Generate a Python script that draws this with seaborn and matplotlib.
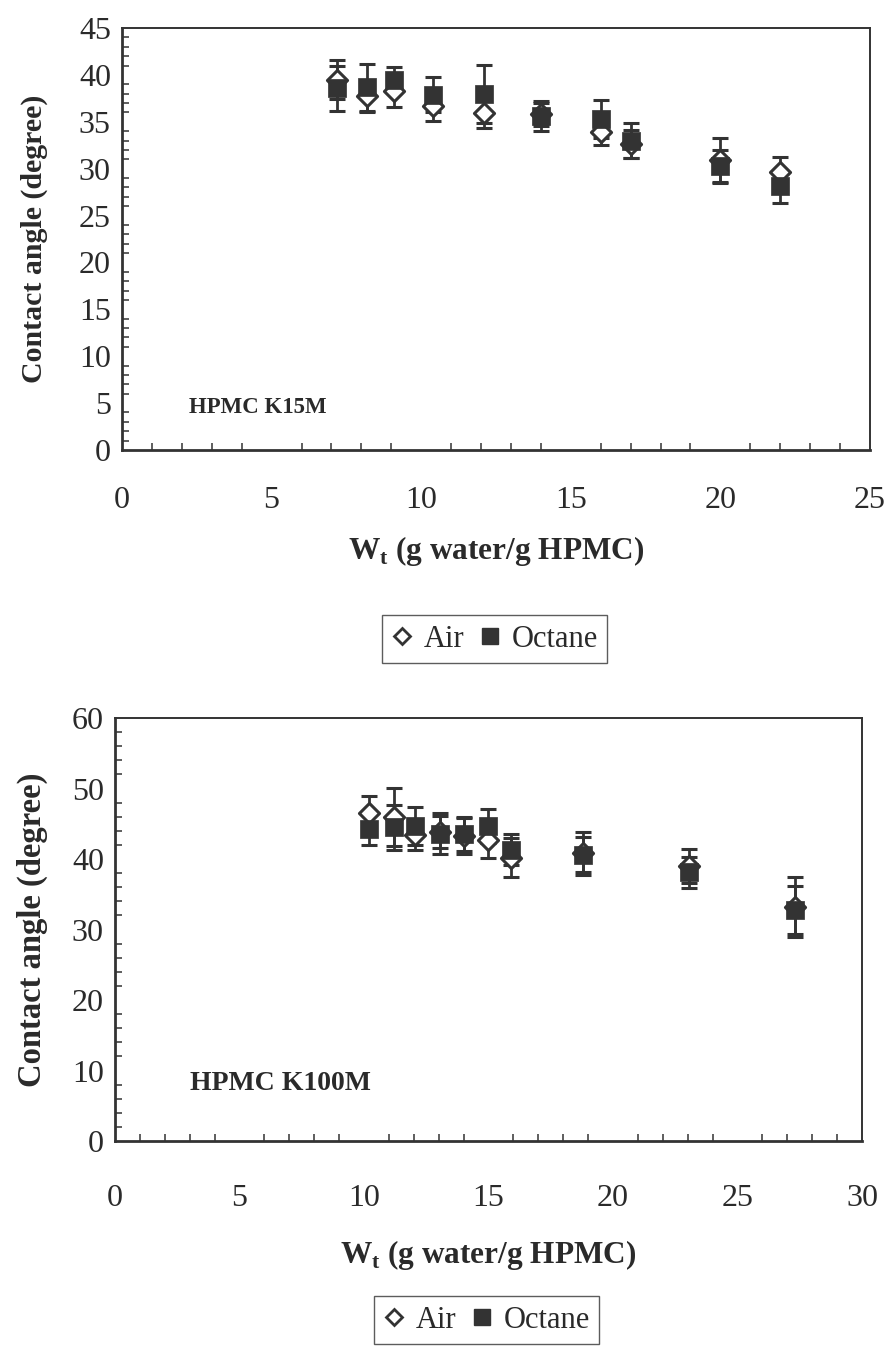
import matplotlib
matplotlib.use("Agg")
import matplotlib.pyplot as plt
from matplotlib.lines import Line2D
from matplotlib.ticker import MultipleLocator
import numpy as np
import pandas as pd
import seaborn as sns

# HPMC K15M: water uptake vs contact angle (mean, std) in air and octane
x_k15 = [7.2, 8.2, 9.1, 10.4, 12.1, 14.0, 16.0, 17.0, 20.0, 22.0]
air_k15 = [39.5, 37.7, 38.3, 36.7, 35.9, 35.8, 33.9, 32.6, 30.9, 29.6]
air_k15_err = [2.1, 1.7, 1.7, 1.6, 1.6, 1.2, 1.4, 1.5, 2.4, 1.6]
oct_k15 = [38.6, 38.7, 39.5, 37.9, 38.0, 35.6, 35.3, 33.0, 30.3, 28.1]
oct_k15_err = [2.4, 2.5, 1.3, 1.9, 3.1, 1.6, 2.0, 1.9, 1.7, 1.8]

# HPMC K100M
x_k100 = [10.2, 11.2, 12.05, 13.05, 14.0, 15.0, 15.9, 18.8, 23.05, 27.3]
air_k100 = [46.5, 46.0, 43.4, 43.8, 43.3, 42.7, 40.2, 40.8, 39.0, 33.2]
air_k100_err = [2.4, 4.1, 2.1, 2.3, 2.6, 2.6, 2.8, 3.0, 2.4, 4.2]
oct_k100 = [44.3, 44.5, 44.7, 43.6, 43.5, 44.7, 41.3, 40.6, 38.1, 32.8]
oct_k100_err = [2.3, 3.2, 2.7, 2.9, 2.3, 2.4, 2.2, 2.5, 2.2, 3.4]

media = ["Air", "Octane"]

sns.set_theme(style="white")
plt.rcParams["font.family"] = ["Liberation Serif", "DejaVu Serif"]
plt.rcParams["mathtext.fontset"] = "custom"
plt.rcParams["mathtext.rm"] = "Liberation Serif"
plt.rcParams["mathtext.bf"] = "Liberation Serif:bold"

INK = "#333333"
TXT = "#2a2a2a"


def make_frame(x, air, air_err, octane, oct_err):
    return pd.DataFrame({
        "wt": list(x) + list(x),
        "angle": list(air) + list(octane),
        "err": list(air_err) + list(oct_err),
        "medium": [media[0]] * len(x) + [media[1]] * len(x),
    })


def draw_panel(ax, df, xmax, ymax, ymajor, yminor, label, label_xy,
               label_size, ylabel_size, ylabel_pad, xtick_pad, xlabel_pad):
    for med in media:
        sub = df[df["medium"] == med]
        ax.errorbar(sub["wt"], sub["angle"], yerr=sub["err"], fmt="none",
                    ecolor=INK, elinewidth=2.0, capsize=6.0, capthick=2.2,
                    zorder=2)
    sns.scatterplot(data=df[df["medium"] == "Air"], x="wt", y="angle",
                    marker="D", s=105, facecolor="white", edgecolor=INK,
                    linewidth=2.2, ax=ax, zorder=3, legend=False)
    sns.scatterplot(data=df[df["medium"] == "Octane"], x="wt", y="angle",
                    marker="s", s=160, color=INK, edgecolor=INK,
                    linewidth=0.5, ax=ax, zorder=4, legend=False)

    ax.set_xlim(0, xmax)
    ax.set_ylim(0, ymax)
    ax.xaxis.set_major_locator(MultipleLocator(5))
    ax.xaxis.set_minor_locator(MultipleLocator(1))
    ax.yaxis.set_major_locator(MultipleLocator(ymajor))
    ax.yaxis.set_minor_locator(MultipleLocator(yminor))
    ax.tick_params(axis="x", which="major", direction="out", length=9,
                   width=1.3, color=INK, labelsize=23, labelcolor=TXT,
                   pad=xtick_pad)
    ax.tick_params(axis="x", which="minor", direction="in", length=5,
                   width=1.1, color=INK, bottom=True)
    ax.tick_params(axis="y", which="major", direction="inout", length=12,
                   width=1.3, color=INK, labelsize=23, labelcolor=TXT, pad=2)
    ax.tick_params(axis="y", which="minor", direction="in", length=5,
                   width=1.1, color=INK, left=True)
    for side in ["left", "bottom"]:
        ax.spines[side].set_linewidth(2.0)
        ax.spines[side].set_color(INK)
    for side in ["top", "right"]:
        ax.spines[side].set_linewidth(1.4)
        ax.spines[side].set_color(INK)
    ax.set_xlabel(r"W$_{\mathbf{t}}$ (g water/g HPMC)", fontsize=22.5,
                  fontweight="bold", color=TXT, labelpad=xlabel_pad)
    ax.set_ylabel("Contact angle (degree)", fontsize=ylabel_size,
                  fontweight="bold", color=TXT, labelpad=ylabel_pad)
    ax.text(label_xy[0], label_xy[1], label, transform=ax.transAxes,
            fontsize=label_size, fontweight="bold", color=TXT,
            va="center", ha="left")
    ax.grid(False)


fig = plt.figure(figsize=(8.88, 13.54), dpi=100)
ax1 = fig.add_axes([0.1374, 0.6677, 0.8423, 0.3116])
ax2 = fig.add_axes([0.1295, 0.1573, 0.8412, 0.3124])

draw_panel(ax1, make_frame(x_k15, air_k15, air_k15_err, oct_k15, oct_k15_err),
           25, 45, 5, 1, "HPMC K15M", (0.09, 0.10), 16.5, 21.5,
           22, 17, 14)
draw_panel(ax2, make_frame(x_k100, air_k100, air_k100_err, oct_k100, oct_k100_err),
           30, 60, 10, 2, "HPMC K100M", (0.10, 0.137), 20, 23.5,
           17, 22, 18)

handles = [
    Line2D([], [], linestyle="none", marker="D", markersize=8,
           markerfacecolor="white", markeredgecolor=INK, markeredgewidth=2.0),
    Line2D([], [], linestyle="none", marker="s", markersize=11,
           markerfacecolor=INK, markeredgecolor=INK),
]
for xpos, ypos in [(0.557, 0.528), (0.548, 0.0251)]:
    leg = fig.legend(handles, media, loc="center", ncol=2,
                     bbox_to_anchor=(xpos, ypos),
                     frameon=True, fancybox=False, fontsize=22,
                     handlelength=0.7, handletextpad=0.35, columnspacing=0.5,
                     borderpad=0.3, edgecolor=INK)
    leg.get_frame().set_linewidth(1.0)
    for t in leg.get_texts():
        t.set_color(TXT)

fig.savefig("out.png", dpi=100, facecolor="white")
